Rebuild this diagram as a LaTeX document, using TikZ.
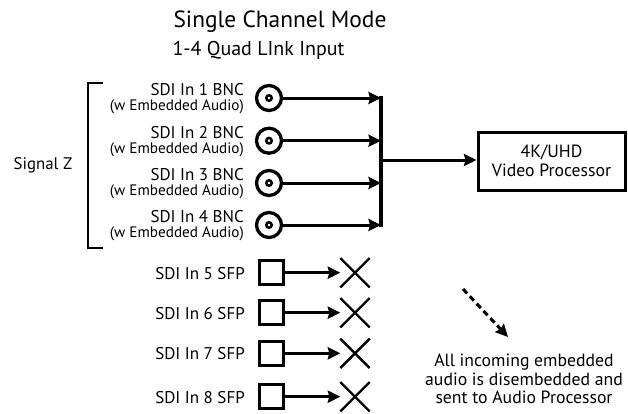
\documentclass[tikz,border=0pt]{standalone}
\usepackage{fontspec}
\setmainfont{PT Sans}
\usetikzlibrary{arrows.meta,shapes.misc}
\begin{document}
\begin{tikzpicture}[x=1pt,y=-1pt,
  lw/.style={line width=3pt},
  tip/.style={-{Stealth[length=12.5pt,width=12pt,inset=1.5pt]}},
  arr/.style={lw,tip},
  bnc/.style={circle,draw,line width=3.3pt,minimum size=25pt,inner sep=0pt},
  bncin/.style={circle,draw,line width=2.5pt,minimum size=5.5pt,inner sep=0pt},
  sfp/.style={draw,lw,minimum size=24.5pt,inner sep=0pt},
  xmark/.style={draw,cross out,line width=2.4pt,minimum size=27pt,inner sep=0pt},
  lab/.style={anchor=base east,inner sep=0pt,font=\fontsize{17}{19}\selectfont},
  sublab/.style={anchor=base east,inner sep=0pt,font=\fontsize{15.2}{17}\selectfont},
]
\useasboundingbox (0,0) rectangle (628,413);
% titles
\node[anchor=base,inner sep=0pt,font=\fontsize{23.4}{26}\selectfont] (title) at (280,27) {Single Channel Mode};
\node[anchor=base,inner sep=0pt,font=\fontsize{20}{22}\selectfont] (sub) at (258.5,55) {1-4 Quad LInk Input};
% bracket and signal
\coordinate (br1) at (103,83);
\coordinate (br2) at (88,83);
\coordinate (br3) at (88,248);
\coordinate (br4) at (103,248);
\draw[line width=2.4pt] (br1) -- (br2) -- (br3) -- (br4);
\node[anchor=base,inner sep=0pt,font=\fontsize{16.8}{19}\selectfont] (sigz) at (43,169) {Signal Z};
% BNC inputs
\foreach \i/\y in {1/98,2/140.7,3/183,4/225}{
  \node[bnc] (b\i) at (269,\y) {};
  \node[bncin] (bi\i) at (269,\y) {};
  \node[lab] (l\i) at (244,\y-2.3) {SDI In \i\ BNC};
  \node[sublab] (s\i) at (244,\y+12.8) {(w Embedded Audio)};
  \coordinate (j\i) at (381,\y);
  \draw[arr] (b\i) -- (j\i);
}
\coordinate (jt) at (381,96);
\coordinate (jb) at (381,227);
\draw[line width=3.2pt] (jt) -- (jb);
\coordinate (jm) at (381,160);
\node[draw,lw,minimum width=147pt,minimum height=58pt,align=center,inner sep=0pt,
  font=\fontsize{17.7}{19.5}\selectfont] (vp) at (551.5,161) {4K/UHD\\Video Processor};
\draw[arr] (jm) -- (jm -| vp.west);
% SFP inputs
\foreach \i/\y in {5/272.7,6/312.7,7/353.3,8/396.7}{
  \node[sfp] (q\i) at (271.5,\y) {};
  \node[lab] (t\i) at (245,\y+6.6) {SDI In \i\ SFP};
  \node[xmark] (x\i) at (355,\y) {};
  \draw[arr] (q\i) -- (x\i.west);
}
% dashed arrow and note
\coordinate (d1) at (463,289);
\coordinate (d2) at (508,337);
\draw[lw,dash pattern=on 6pt off 4pt,tip] (d1) -- (d2);
\node[align=center,inner sep=0pt,font=\fontsize{17.7}{18.2}\selectfont] (note) at (524,379)
  {All incoming embedded\\audio is disembedded and\\sent to Audio Processor};
\end{tikzpicture}
\end{document}
